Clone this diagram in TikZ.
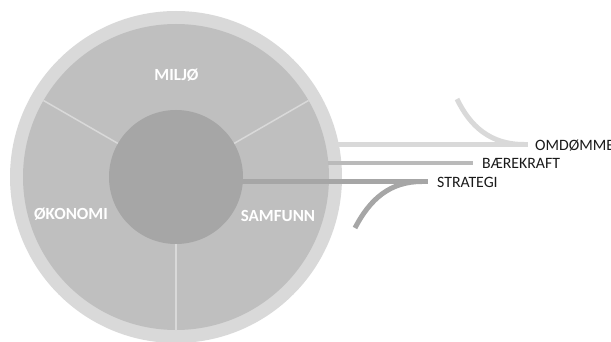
\documentclass[tikz,border=0pt]{standalone}
\usepackage{fontspec}
\setmainfont{Carlito}
\definecolor{ringc}{HTML}{D9D9D9}
\definecolor{segc}{HTML}{BFBFBF}
\definecolor{corec}{HTML}{A6A6A6}
\definecolor{barc}{HTML}{BABABA}
\definecolor{txtc}{HTML}{1A1A1A}
\begin{document}
\begin{tikzpicture}[x=1pt,y=-1pt,
  seglabel/.style={font=\fontsize{17}{17}\selectfont\bfseries, text=white, inner sep=0pt, anchor=base},
  outlabel/.style={font=\fontsize{15.8}{15.8}\selectfont, text=txtc, inner sep=0pt, anchor=base west},
  divider/.style={draw=ringc, line width=1.5pt},
  barline/.style={line width=5pt},
]
\useasboundingbox (0,0) rectangle (611,342);
% circles
\coordinate (c) at (176,177);
\fill[ringc] (c) circle[radius=166];
\fill[segc] (c) circle[radius=153];
\draw[divider] (234,143.5) -- (308.5,100.5);
\draw[divider] (118,143.5) -- (43.5,100.5);
\draw[divider] (176,244) -- (176,330);
\node[circle, fill=corec, minimum size=134pt, inner sep=0pt] (core) at (c) {};
% segment labels
\node[seglabel] (milj) at (176.5,81) {MILJØ};
\node[seglabel] (okon) at (71,220) {ØKONOMI};
\node[seglabel] (samf) at (278,222) {SAMFUNN};
% outer labels
\node[outlabel] (omd) at (535,150.5) {OMDØMME};
\node[outlabel] (bae) at (482,168.5) {BÆREKRAFT};
\node[outlabel] (str) at (437,187.5) {STRATEGI};
% line end points
\coordinate (omdS) at (329,144.5);
\coordinate (omdE) at (528,144.5);
\coordinate (omdC) at (457,99);
\coordinate (baeS) at (328,163.5);
\coordinate (baeE) at (473,163.5);
\coordinate (strS) at (240,181.5);
\coordinate (strE) at (428,181.5);
\coordinate (strC) at (355,228);
% bars
\draw[barline, ringc] (omdS) -- (omdE);
\draw[barline, ringc] (omdC) .. controls (470,126) and (490,144.5) .. (524,144.5);
\draw[barline, line width=4pt, barc] (baeS) -- (baeE);
\draw[barline, corec] (strS) -- (strE);
\draw[barline, corec] (strC) .. controls (370,199) and (390,181.5) .. (422,181.5);
\end{tikzpicture}
\end{document}
